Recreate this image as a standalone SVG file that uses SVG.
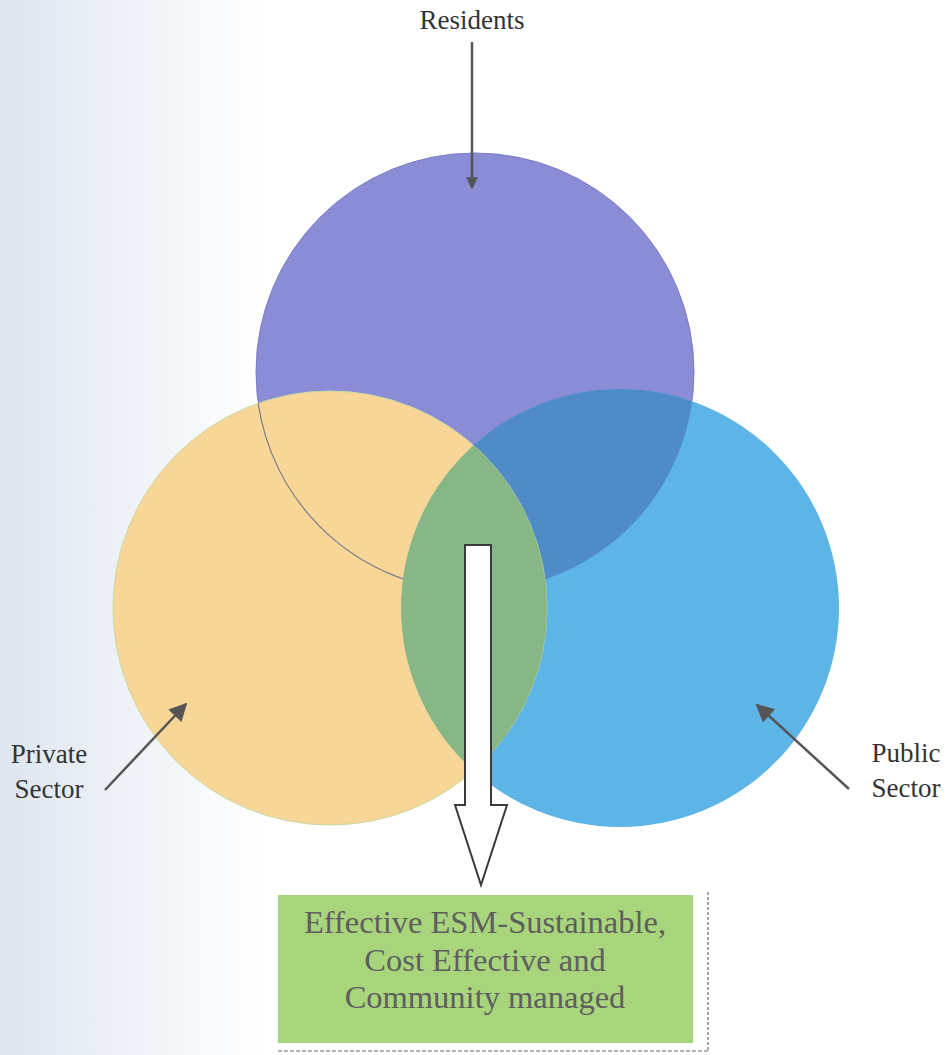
<svg xmlns="http://www.w3.org/2000/svg" width="948" height="1055" viewBox="0 0 948 1055">
<defs>
<linearGradient id="bg" x1="0" y1="0" x2="1" y2="0">
<stop offset="0" stop-color="#dde5ef"/>
<stop offset="0.1" stop-color="#eaeff5"/>
<stop offset="0.28" stop-color="#ffffff"/>
</linearGradient>
<clipPath id="clipP"><circle cx="475" cy="372" r="219"/></clipPath>
<clipPath id="clipO"><circle cx="330" cy="608" r="217"/></clipPath>
<marker id="ah" viewBox="0 0 10 10" refX="9" refY="5" markerWidth="14" markerHeight="12" orient="auto" markerUnits="userSpaceOnUse">
<path d="M0,0 L10,5 L0,10 z" fill="#555"/>
</marker>
<marker id="ah2" viewBox="0 0 10 10" refX="9" refY="5" markerWidth="20" markerHeight="18" orient="auto" markerUnits="userSpaceOnUse">
<path d="M0,0 L10,5 L0,10 z" fill="#555"/>
</marker>
</defs>
<style>
.lbl{font-family:"Liberation Serif","Times New Roman",serif;fill:#333;font-size:27px;text-anchor:middle}
.box{font-family:"Liberation Serif","Times New Roman",serif;fill:#5e5e5e;font-size:32.5px;text-anchor:middle}
.conn{stroke:#555;fill:none}
</style>
<rect x="0" y="0" width="948" height="1055" fill="url(#bg)"/>

<g id="circles">
<circle id="residents-circle" cx="475" cy="372" r="219" fill="#8b8cd6" stroke="#7a7cc8" stroke-width="1"/>
<circle id="public-circle" cx="620" cy="608" r="219" fill="#5db4e6"/>
<circle cx="620" cy="608" r="219" fill="#4f8bc7" clip-path="url(#clipP)"/>
<circle id="private-circle" cx="330" cy="608" r="217" fill="#f8d698" stroke="#c8d8a0" stroke-width="1"/>
<circle cx="475" cy="372" r="219" fill="none" stroke="#7a7a88" stroke-width="1.2" clip-path="url(#clipO)"/>
<circle cx="620" cy="608" r="219" fill="#87b787" clip-path="url(#clipO)"/>
</g>

<g id="connectors">
<line class="conn" x1="472" y1="42" x2="472" y2="188" stroke-width="2.5" marker-end="url(#ah)"/>
<line class="conn" x1="105" y1="790" x2="186" y2="704" stroke-width="2.5" marker-end="url(#ah2)"/>
<line class="conn" x1="849" y1="789" x2="757" y2="705" stroke-width="2.5" marker-end="url(#ah2)"/>
<path id="block-arrow" d="M465,545 L491,545 L491,805 L507,805 L481,885 L455,805 L465,805 Z" fill="#ffffff" stroke="#3a3a3a" stroke-width="2" stroke-linejoin="miter"/>
</g>

<g id="residents"><text class="lbl" x="472" y="29">Residents</text></g>
<g id="private-sector"><text class="lbl" x="49" y="763">Private</text><text class="lbl" x="49" y="798">Sector</text></g>
<g id="public-sector"><text class="lbl" x="906" y="762">Public</text><text class="lbl" x="906" y="797">Sector</text></g>

<g id="outcome">
<rect x="278" y="895" width="415" height="148" fill="#a8d47c"/>
<text class="box" x="485" y="933">Effective ESM-Sustainable,</text>
<text class="box" x="485" y="971">Cost Effective and</text>
<text class="box" x="485" y="1008">Community managed</text>
</g>
<g id="page-edges">
<line x1="708" y1="892" x2="708" y2="1052" stroke="#8a8a8a" stroke-width="1.5" stroke-dasharray="3 2"/>
<line x1="278" y1="1051" x2="708" y2="1051" stroke="#9a9a9a" stroke-width="1.5" stroke-dasharray="4 2"/>
</g>
</svg>
